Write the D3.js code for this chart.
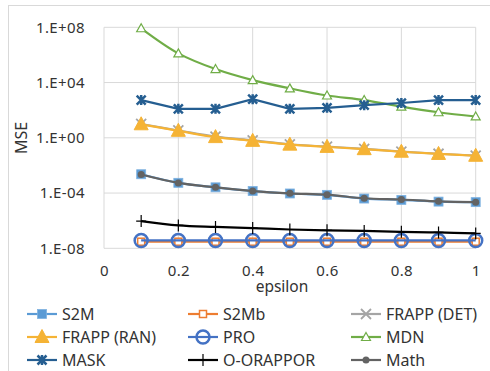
<!DOCTYPE html>
<html>
<head>
<meta charset="utf-8">
<script src="https://cdn.jsdelivr.net/npm/d3@7"></script>
<style>
  body { margin: 0; background: #fff; }
  text { font-family: "Noto Sans", sans-serif; fill: #333; }
</style>
</head>
<body>
<svg id="chart" width="490" height="371"></svg>
<script>
const epsilons = [0.1, 0.2, 0.3, 0.4, 0.5, 0.6, 0.7, 0.8, 0.9, 1.0];
const xTicks = [0, 0.2, 0.4, 0.6, 0.8, 1];
const yTicks = [1e-8, 1e-4, 1e0, 1e4, 1e8];
const yTickLabels = ["1.E-08", "1.E-04", "1.E+00", "1.E+04", "1.E+08"];

const s2m = [2.3e-3, 5.5e-4, 2.6e-4, 1.4e-4, 9.3e-5, 7.4e-5, 4.0e-5, 3.2e-5, 2.4e-5, 2.2e-5];
const s2mb = [3.0e-8, 3.0e-8, 3.0e-8, 3.0e-8, 3.0e-8, 3.0e-8, 3.0e-8, 3.0e-8, 3.0e-8, 3.0e-8];
const frappDet = [10, 3.4, 1.2, 0.65, 0.34, 0.23, 0.16, 0.1, 0.07, 0.052];
const frappRan = [9.5, 3.2, 1.12, 0.6, 0.32, 0.22, 0.15, 0.098, 0.068, 0.05];
const pro = [3.7e-8, 3.7e-8, 3.7e-8, 3.7e-8, 3.7e-8, 3.7e-8, 3.7e-8, 3.7e-8, 3.7e-8, 3.7e-8];
const mdn = [8.5e7, 1.3e6, 9.5e4, 1.5e4, 3.8e3, 1.15e3, 5.4e2, 1.8e2, 71, 35];
const mask = [540, 126, 126, 620, 126, 148, 230, 330, 540, 540];
const oRappor = [9.3e-7, 4.5e-7, 3.5e-7, 2.9e-7, 2.3e-7, 2.0e-7, 1.8e-7, 1.55e-7, 1.4e-7, 1.2e-7];
const math = [2.2e-3, 5.4e-4, 2.6e-4, 1.4e-4, 9.5e-5, 7.6e-5, 4.2e-5, 3.4e-5, 2.5e-5, 2.2e-5];

const series = [
  {name: "S2M", values: s2m, color: "#5B9BD5", marker: "square", smooth: true},
  {name: "S2Mb", values: s2mb, color: "#ED7D31", marker: "squareOpen", smooth: false},
  {name: "FRAPP (DET)", values: frappDet, color: "#A5A5A5", marker: "cross", smooth: true},
  {name: "FRAPP (RAN)", values: frappRan, color: "#F5B335", marker: "triangle", smooth: true},
  {name: "PRO", values: pro, color: "#4472C4", marker: "circleOpen", smooth: false},
  {name: "MDN", values: mdn, color: "#70AD47", marker: "triangleOpen", smooth: true},
  {name: "MASK", values: mask, color: "#255E91", marker: "asterisk", smooth: false},
  {name: "O-ORAPPOR", values: oRappor, color: "#000000", marker: "plus", smooth: true},
  {name: "Math", values: math, color: "#636363", marker: "dot", smooth: true}
];

const svg = d3.select("#chart");
const x = d3.scaleLinear().domain([0, 1]).range([104, 475.7]);
const y = d3.scaleLog().domain([1e-8, 1e8]).range([248.3, 27.3]);

// outer frame
svg.append("rect").attr("x", 8.5).attr("y", 5.5).attr("width", 490).attr("height", 380)
  .attr("fill", "none").attr("stroke", "#D9D9D9");

// grid
const grid = svg.append("g").attr("stroke", "#D9D9D9").attr("stroke-width", 1);
grid.selectAll(".gx").data(xTicks).join("line")
  .attr("x1", d => x(d)).attr("x2", d => x(d)).attr("y1", y(1e8)).attr("y2", y(1e-8));
grid.selectAll(".gy").data(yTicks).join("line")
  .attr("y1", d => y(d)).attr("y2", d => y(d)).attr("x1", x(0)).attr("x2", x(1));

const tickStyle = g => g.selectAll("text").attr("font-size", 15).attr("fill", "#333")
  .attr("font-family", "Noto Sans").attr("letter-spacing", 0.4);

// axes (labels only, lines are the grid)
const xAxis = d3.axisBottom(x).tickValues(xTicks).tickFormat(d3.format("~g")).tickSize(0).tickPadding(17);
svg.append("g").attr("transform", `translate(0, ${y(1e-8)})`).call(xAxis)
  .call(g => g.select(".domain").remove())
  .call(tickStyle);

const yAxis = d3.axisLeft(y).tickValues(yTicks).tickFormat((d, i) => yTickLabels[i]).tickSize(0).tickPadding(19);
svg.append("g").attr("transform", `translate(${x(0)}, 0)`).call(yAxis)
  .call(g => g.select(".domain").remove())
  .call(tickStyle);

svg.append("text").attr("transform", "translate(27, 138) rotate(-90)")
  .attr("text-anchor", "middle").attr("font-size", 16).text("MSE");
svg.append("text").attr("x", 282).attr("y", 292)
  .attr("text-anchor", "middle").attr("font-size", 15.5).text("epsilon");

function drawMarker(g, type, color) {
  switch (type) {
    case "square":
      g.append("rect").attr("x", -4.5).attr("y", -4.5).attr("width", 9).attr("height", 9)
        .attr("fill", color).attr("stroke", "#7FB2E0").attr("stroke-width", 0.8);
      break;
    case "squareOpen":
      g.append("rect").attr("x", -3.5).attr("y", -3.5).attr("width", 7).attr("height", 7)
        .attr("fill", "#fff").attr("stroke", color).attr("stroke-width", 1.5);
      break;
    case "cross":
      g.append("path").attr("d", "M-5,-5L5,5M-5,5L5,-5")
        .attr("stroke", color).attr("stroke-width", 1.8).attr("fill", "none");
      break;
    case "triangle":
      g.append("path").attr("d", "M0,-7.5L7,5.5L-7,5.5Z").attr("fill", color).attr("stroke", color);
      break;
    case "circleOpen":
      g.append("circle").attr("r", 6.5).attr("fill", "none")
        .attr("stroke", color).attr("stroke-width", 2.5);
      break;
    case "triangleOpen":
      g.append("path").attr("d", "M0,-4.5L4.5,3.5L-4.5,3.5Z").attr("fill", "#fff")
        .attr("stroke", color).attr("stroke-width", 1.2);
      break;
    case "asterisk":
      g.append("path").attr("d", "M-4.5,-4.5L4.5,4.5M-4.5,4.5L4.5,-4.5M0,-5L0,5")
        .attr("stroke", color).attr("stroke-width", 2.5).attr("fill", "none");
      break;
    case "plus":
      g.append("path").attr("d", "M-5,0L5,0M0,-6L0,6")
        .attr("stroke", color).attr("stroke-width", 1.2).attr("fill", "none");
      break;
    case "dot":
      g.append("circle").attr("r", 3.5).attr("fill", color);
      break;
  }
}

// series
const plot = svg.append("g");
series.forEach(s => {
  const pts = s.values.map((v, i) => [epsilons[i], v]);
  const line = d3.line().x(d => x(d[0])).y(d => y(d[1]))
    .curve(s.smooth ? d3.curveCatmullRom.alpha(0.5) : d3.curveLinear);
  plot.append("path").attr("d", line(pts)).attr("fill", "none")
    .attr("stroke", s.color).attr("stroke-width", 2.2);
  pts.forEach(p => {
    const m = plot.append("g").attr("transform", `translate(${x(p[0])}, ${y(p[1])})`);
    drawMarker(m, s.marker, s.color);
  });
});

// legend
const legendCols = [27, 188, 351];
const legendRows = [314, 337, 360];
series.forEach((s, i) => {
  const lx = legendCols[i % 3];
  const ly = legendRows[Math.floor(i / 3)];
  const g = svg.append("g").attr("transform", `translate(${lx}, ${ly})`);
  g.append("line").attr("x1", 0).attr("x2", 30).attr("stroke", s.color).attr("stroke-width", 2.2);
  const m = g.append("g").attr("transform", "translate(15, 0)");
  drawMarker(m, s.marker, s.color);
  g.append("text").attr("x", 35).attr("y", 6).attr("font-size", 16).text(s.name);
});
</script>
</body>
</html>
